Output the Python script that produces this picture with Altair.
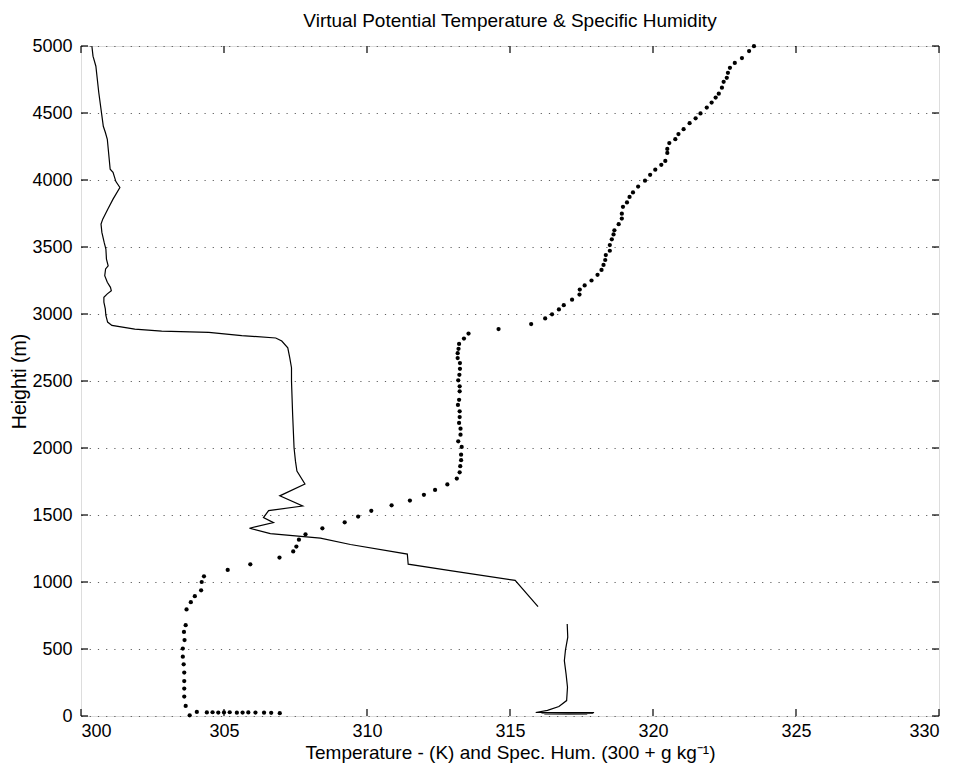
import altair as alt
import pandas as pd

# Specific humidity (300 + g/kg), solid line, upper segment (top -> bottom)
q_upper_h = [5000, 4924, 4849, 4655, 4401, 4356, 4304, 4080, 4057, 3988,
             3944, 3857, 3783, 3708, 3671, 3609, 3534, 3485, 3410, 3360,
             3336, 3286, 3237, 3199, 3174, 3150, 3125, 3088, 3038, 2989,
             2940, 2915, 2887, 2872, 2863, 2839, 2821, 2798, 2748, 2673,
             2599, 2499, 2250, 2000, 1900, 1828, 1731, 1643, 1567, 1533,
             1481, 1443, 1401, 1361, 1327, 1280, 1208, 1133, 1085, 1012, 816]
q_upper_x = [300.38, 300.42, 300.52, 300.62, 300.78, 300.85, 300.92, 301.02, 301.12, 301.22,
             301.36, 301.12, 300.94, 300.76, 300.70, 300.73, 300.81, 300.87, 300.89, 300.95,
             300.86, 300.83, 300.92, 301.03, 301.06, 300.92, 300.80, 300.80, 300.85, 300.87,
             300.93, 301.08, 301.88, 302.82, 304.47, 305.62, 306.81, 307.02, 307.23, 307.30,
             307.36, 307.36, 307.40, 307.45, 307.50, 307.55, 307.83, 306.95, 307.75, 306.56,
             306.38, 306.73, 305.89, 306.62, 308.37, 309.42, 311.41, 311.44, 312.91, 315.18, 315.98]

# Specific humidity, lower segment
q_lower_h = [687, 588, 493, 413, 314, 215, 115, 71, 42, 26, 25, 21, 19, 16, 14]
q_lower_x = [317.00, 317.02, 316.94, 316.90, 316.96, 317.01, 316.98, 316.71, 316.31, 315.90,
             317.94, 316.10, 317.90, 316.20, 317.70]

# Virtual potential temperature (K), dotted series
tv_h = [4999, 4962, 4910, 4874, 4837, 4800, 4763, 4733, 4689, 4644,
        4615, 4578, 4541, 4497, 4460, 4424, 4379, 4343, 4305, 4276,
        4232, 4202, 4142, 4113, 4077, 4039, 3995, 3951, 3907, 3874,
        3833, 3800, 3749, 3712, 3670, 3625, 3594, 3557, 3514, 3472,
        3440, 3403, 3366, 3329, 3292, 3250, 3213, 3182, 3145, 3107,
        3066, 3034, 2998, 2967, 2925, 2888, 2854, 2817, 2777, 2740,
        2708, 2671, 2634, 2591, 2546, 2505, 2460, 2423, 2360, 2321,
        2274, 2231, 2187, 2144, 2099, 2050, 2008, 1950, 1909, 1864,
        1819, 1772, 1728, 1687, 1651, 1608, 1572, 1531, 1488, 1445,
        1401, 1356, 1316, 1264, 1228, 1182, 1132, 1090, 1042, 1000,
        938, 894, 849, 795, 678, 627, 567, 503, 443, 386,
        324, 261, 205, 145, 75, 5,
        30, 27, 28, 26, 27, 28, 25, 26, 27, 26, 25, 24, 21]
tv_x = [323.53, 323.36, 323.11, 322.86, 322.69, 322.62, 322.58, 322.47, 322.41, 322.30,
        322.19, 322.05, 321.88, 321.66, 321.49, 321.28, 321.07, 320.89, 320.78, 320.57,
        320.50, 320.50, 320.43, 320.29, 320.08, 319.90, 319.72, 319.48, 319.30, 319.18,
        319.09, 318.95, 318.91, 318.91, 318.80, 318.65, 318.62, 318.56, 318.49, 318.49,
        318.35, 318.33, 318.27, 318.20, 318.06, 317.85, 317.61, 317.44, 317.43, 317.17,
        316.88, 316.71, 316.47, 316.23, 315.74, 314.60, 313.55, 313.39, 313.22, 313.20,
        313.17, 313.17, 313.25, 313.25, 313.23, 313.19, 313.24, 313.24, 313.22, 313.18,
        313.24, 313.24, 313.22, 313.27, 313.27, 313.19, 313.31, 313.29, 313.29, 313.26,
        313.24, 313.14, 312.81, 312.38, 311.99, 311.50, 310.86, 310.15, 309.69, 309.22,
        308.44, 307.85, 307.62, 307.53, 307.42, 306.94, 305.92, 305.13, 304.30, 304.22,
        304.20, 303.98, 303.84, 303.69, 303.66, 303.60, 303.62, 303.56, 303.56, 303.59,
        303.61, 303.61, 303.61, 303.61, 303.66, 303.80,
        304.05, 304.40, 304.60, 304.80, 305.00, 305.20, 305.45, 305.65, 305.85, 306.10,
        306.40, 306.65, 306.95]

x_ticks = [300, 305, 310, 315, 320, 325, 330]
y_ticks = [0, 500, 1000, 1500, 2000, 2500, 3000, 3500, 4000, 4500, 5000]

W, H = 858, 670
FONT = "Liberation Sans"

q_df = pd.DataFrame({
    "x": q_upper_x + q_lower_x,
    "h": q_upper_h + q_lower_h,
    "seg": ["a"] * len(q_upper_x) + ["b"] * len(q_lower_x),
    "i": list(range(len(q_upper_x))) + list(range(len(q_lower_x))),
})
tv_df = pd.DataFrame({"x": tv_x, "h": tv_h})
xt_df = pd.DataFrame({"v": x_ticks})
yt_df = pd.DataFrame({"v": y_ticks})

xscale = alt.Scale(domain=[300, 330], nice=False, zero=False)
yscale = alt.Scale(domain=[0, 5000], nice=False, zero=False)

xaxis = alt.Axis(values=x_ticks, format="d", ticks=False, domain=False, grid=False,
                 labelFont=FONT, labelFontSize=18, labelColor="black", labelPadding=6,
                 title="Temperature - (K) and Spec. Hum. (300 + g kg⁻¹)",
                 titleFont=FONT, titleFontSize=19, titleFontWeight="normal",
                 titleColor="black", titlePadding=3)
yaxis = alt.Axis(values=y_ticks, format="d", ticks=False, domain=False, grid=True,
                 gridDash=[1.2, 7], gridColor="#444444", gridWidth=1, gridOpacity=0.85,
                 labelFont=FONT, labelFontSize=18, labelColor="black", labelPadding=9,
                 title="Heighti (m)", titleFont=FONT, titleFontSize=19.5,
                 titleFontWeight="normal", titleColor="black", titlePadding=2)

base_x = alt.X("x:Q", scale=xscale, axis=xaxis)
base_y = alt.Y("h:Q", scale=yscale, axis=yaxis)

q_line = alt.Chart(q_df).mark_line(color="black", strokeWidth=1.2).encode(
    x=base_x, y=base_y, detail="seg:N", order="i:Q")

tv_pts = alt.Chart(tv_df).mark_circle(color="black", size=18, opacity=1).encode(
    x=alt.X("x:Q", scale=xscale), y=alt.Y("h:Q", scale=yscale))

tick_b = alt.Chart(xt_df).mark_rule(color="black", strokeWidth=1.2).encode(
    x=alt.X("v:Q", scale=xscale), y=alt.value(H), y2=alt.value(H - 7))
tick_t = alt.Chart(xt_df).mark_rule(color="black", strokeWidth=1.2).encode(
    x=alt.X("v:Q", scale=xscale), y=alt.value(0), y2=alt.value(7))
tick_l = alt.Chart(yt_df).mark_rule(color="black", strokeWidth=1.2).encode(
    y=alt.Y("v:Q", scale=yscale), x=alt.value(0), x2=alt.value(7))
tick_r = alt.Chart(yt_df).mark_rule(color="black", strokeWidth=1.2).encode(
    y=alt.Y("v:Q", scale=yscale), x=alt.value(W), x2=alt.value(W - 7))

chart = alt.layer(q_line, tv_pts, tick_b, tick_t, tick_l, tick_r).properties(
    width=W, height=H,
    title=alt.TitleParams("Virtual Potential Temperature & Specific Humidity",
                          font=FONT, fontSize=19, fontWeight="normal", color="black",
                          offset=6, anchor="middle"),
    autosize=alt.AutoSizeParams(type="none"),
    padding={"left": 81, "top": 46, "right": 20, "bottom": 48},
).configure_view(stroke="black", strokeWidth=1.4).configure(background="white")

chart.save("out.html", embed_options={"renderer": "svg", "actions": False})
